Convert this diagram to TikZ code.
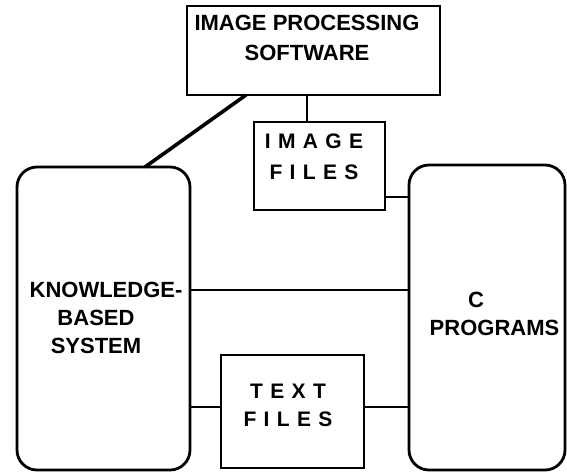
\documentclass[tikz,border=0pt]{standalone}
\usepackage{fontspec}
\setmainfont{Liberation Sans}
\usetikzlibrary{calc}

\tikzset{
  sysbox/.style={draw, line width=2.8pt, rounded corners=20pt, inner sep=0pt, outer sep=0pt},
  filebox/.style={draw, line width=2.8pt, inner sep=0pt, outer sep=0pt},
  link/.style={line width=2.4pt},
  thicklink/.style={line width=3.6pt},
  lbl/.style={align=center, inner sep=0pt, outer sep=0pt},
  plainfont/.style={font=\bfseries\fontsize{22}{#1}\selectfont},
  spacedfont/.style={font=\bfseries\fontsize{21}{#1}\selectfont\addfontfeature{LetterSpace=35}},
}

\begin{document}
\begin{tikzpicture}[x=1pt, y=-1pt]
  \useasboundingbox (0,0) rectangle (567,472);
  \clip (0,0) rectangle (567,472);

  % boxes
  \node[filebox, minimum width=253pt, minimum height=89pt] (ips) at (313.5,50.5) {};
  \node[filebox, minimum width=131pt, minimum height=88pt] (imgf) at (319.5,166) {};
  \node[sysbox, minimum width=173pt, minimum height=303pt] (kbs) at (103.5,318.5) {};
  \node[sysbox, minimum width=156pt, minimum height=305pt] (cprog) at (487,317.5) {};
  \node[filebox, minimum width=143pt, minimum height=113pt] (txtf) at (292.5,411.5) {};

  % labels
  \node[lbl, plainfont=30pt] (ipst) at (307,38) {IMAGE PROCESSING\\SOFTWARE};
  \node[lbl, spacedfont=31pt] (imgft) at (314,157) {IMAGE\\FILES};
  \node[lbl, plainfont=28pt] (kbst) at (96,317.5) {\hspace*{20pt}KNOWLEDGE-\\BASED\\SYSTEM};
  \node[lbl, plainfont=28pt] (cprogt) at (494.5,314) {C\hspace*{37pt}\\PROGRAMS};
  \node[lbl, spacedfont=28pt] (txtft) at (288,405.5) {TEXT\\FILES};

  % connectors
  \draw[thicklink] ([xshift=59pt]ips.south west) -- ([xshift=128pt]kbs.north west);
  \draw[link] ([xshift=-12.5pt]imgf.north) -- ([xshift=-12.5pt]imgf.north |- ips.south);
  \draw[link] ([yshift=-31pt]imgf.east) -- ([yshift=-31pt]imgf.east -| cprog.west);
  \draw[link] ([yshift=28.5pt]kbs.east) -- ([yshift=28.5pt]kbs.east -| cprog.west);
  \draw[link] ([yshift=4.5pt]txtf.west) -- ([yshift=4.5pt]txtf.west -| kbs.east);
  \draw[link] ([yshift=4.5pt]txtf.east) -- ([yshift=4.5pt]txtf.east -| cprog.west);
\end{tikzpicture}
\end{document}
